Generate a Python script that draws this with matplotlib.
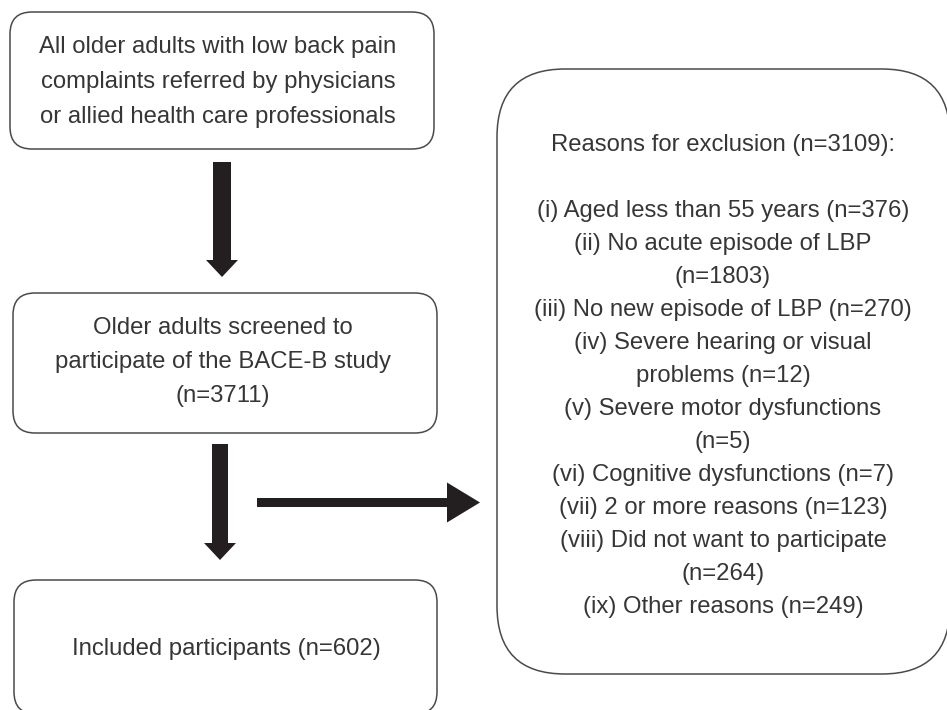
import matplotlib.pyplot as plt
from matplotlib.patches import FancyBboxPatch, FancyArrow

# Inhalt des Flussdiagramms
referral_lines = ["All older adults with low back pain",
                  "complaints referred by physicians",
                  "or allied health care professionals"]
screened_n = 3711
excluded_n = 3109
included_n = 602
screened_lines = ["Older adults screened to",
                  "participate of the BACE-B study",
                  "(n=%d)" % screened_n]
included_lines = ["Included participants (n=%d)" % included_n]
exclusion_lines = ["Reasons for exclusion (n=%d):" % excluded_n,
                   "",
                   "(i) Aged less than 55 years (n=376)",
                   "(ii) No acute episode of LBP",
                   "(n=1803)",
                   "(iii) No new episode of LBP (n=270)",
                   "(iv) Severe hearing or visual",
                   "problems (n=12)",
                   "(v) Severe motor dysfunctions",
                   "(n=5)",
                   "(vi) Cognitive dysfunctions (n=7)",
                   "(vii) 2 or more reasons (n=123)",
                   "(viii) Did not want to participate",
                   "(n=264)",
                   "(ix) Other reasons (n=249)"]

textcolor = "#363636"
edgecolor = "#4a4a4a"
arrowcolor = "#231f20"
fs = 17.2

fig = plt.figure(figsize=(9.47, 7.10), dpi=100)
ax = fig.add_axes([0, 0, 1, 1])
ax.set_xlim(0, 947)
ax.set_ylim(710, 0)
ax.axis("off")


def box(x, y, w, h, r):
    ax.add_patch(FancyBboxPatch((x, y), w, h,
                                boxstyle="round,pad=0,rounding_size=%d" % r,
                                fc="white", ec=edgecolor, lw=1.1))


def lines(text_lines, cx, y0, step):
    for i, t in enumerate(text_lines):
        ax.text(cx, y0 + i * step, t, ha="center", va="center",
                fontsize=fs, color=textcolor, family="Liberation Sans")


# Kästen
box(10, 12, 424, 137, 22)
box(13, 293, 424, 140, 22)
box(14, 580, 423, 134, 22)
box(497, 69, 453, 605, 68)

lines(referral_lines, 218, 47, 35)
lines(screened_lines, 223, 328, 34)
lines(included_lines, 226, 649, 34)
lines(exclusion_lines, 723, 145, 33)

# Pfeile
ax.add_patch(FancyArrow(222, 162, 0, 115, width=18, head_width=32, head_length=17,
                        length_includes_head=True, color=arrowcolor, lw=0))
ax.add_patch(FancyArrow(220, 444, 0, 116, width=16, head_width=32, head_length=17,
                        length_includes_head=True, color=arrowcolor, lw=0))
ax.add_patch(FancyArrow(257, 502.5, 223, 0, width=9, head_width=40, head_length=33,
                        length_includes_head=True, color=arrowcolor, lw=0))

fig.savefig("out.png", dpi=100)
